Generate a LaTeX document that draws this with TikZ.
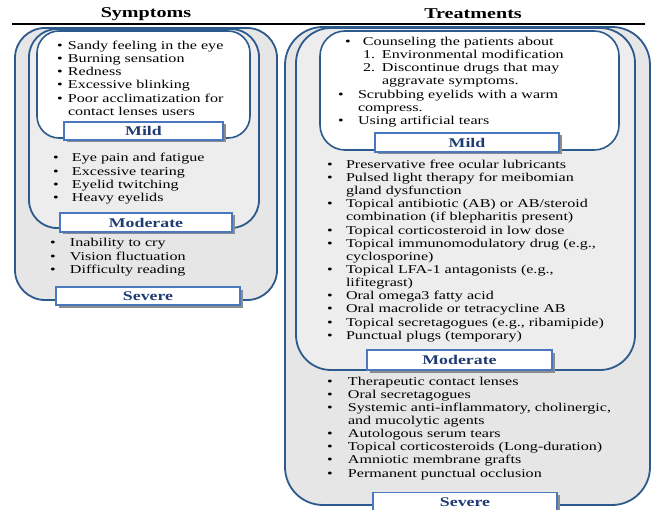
\documentclass[tikz,border=0pt]{standalone}
\usepackage{fontspec}
\setmainfont{Liberation Serif}
\newfontfamily\bodyfont[FakeStretch=1.34]{Liberation Serif}
\usetikzlibrary{shadows}
\definecolor{boxblue}{HTML}{2C5A8C}
\definecolor{lblblue}{HTML}{4A78BE}
\definecolor{lbltext}{HTML}{1F3B73}
\definecolor{fillA}{HTML}{E6E6E6}
\definecolor{fillB}{HTML}{EDEDED}
\newcommand\bl[1]{\makebox[#1][l]{\textbullet}}
\tikzset{
  levelbox/.style={draw=boxblue, line width=1.8pt, rounded corners=#1,
    inner sep=0pt, outer sep=0pt, anchor=north west},
  lvllabel/.style={draw=lblblue, line width=1.4pt, fill=white, inner sep=0pt,
    outer sep=0pt, text=lbltext, font=\bodyfont\bfseries\fontsize{13.3}{14}\selectfont,
    drop shadow={shadow xshift=2.5pt, shadow yshift=-2.5pt, fill=black!45, opacity=1}},
  listtxt/.style={anchor=base west, inner sep=0pt, outer sep=0pt, text=black,
    font=\bodyfont\fontsize{12}{13.15}\selectfont},
  heading/.style={inner sep=0pt, font=\bodyfont\bfseries\fontsize{15}{16}\selectfont}
}
\begin{document}
\begin{tikzpicture}[x=1pt,y=-1pt]
\useasboundingbox (0,0) rectangle (652,510);
% headings
\node[heading] (hsym) at (146,14) {Symptoms};
\node[heading] (htre) at (473,14) {Treatments};
\coordinate (hl) at (12,24);
\coordinate (hr) at (645,24);
\draw[line width=1.6pt] (hl) -- (hr);

% ---------- Symptoms ----------
\node[levelbox=30, fill=fillA, minimum width=262pt, minimum height=272pt] (lsev) at (15,28) {};
\node[levelbox=28, fill=fillB, minimum width=230pt, minimum height=199pt] (lmod) at (29,29) {};
\node[levelbox=22, fill=white, line width=1.6pt, minimum width=213pt, minimum height=107pt] (lmild) at (37,31) {};

\node[listtxt] (lmildtxt) at (57.2,49.5) {\begin{tabular}[t]{@{}l@{}}
\bl{10.8pt}Sandy feeling in the eye\\
\bl{10.8pt}Burning sensation\\
\bl{10.8pt}Redness\\
\bl{10.8pt}Excessive blinking\\
\bl{10.8pt}Poor acclimatization\ for\\
\hspace*{10.8pt}contact lenses users
\end{tabular}};
\node[listtxt] (lmodtxt) at (53.2,162) {\begin{tabular}[t]{@{}l@{}}
\bl{18.8pt}Eye pain and fatigue\\
\bl{18.8pt}Excessive tearing\\
\bl{18.8pt}Eyelid twitching\\
\bl{18.8pt}Heavy\ eyelids
\end{tabular}};
\node[listtxt] (lsevtxt) at (50.2,247) {\begin{tabular}[t]{@{}l@{}}
\bl{19.8pt}Inability to cry\\
\bl{19.8pt}Vision fluctuation\\
\bl{19.8pt}Difficulty reading
\end{tabular}};

\node[lvllabel, minimum width=159pt, minimum height=18pt] (lmildlbl) at (143.5,131) {Mild};
\node[lvllabel, minimum width=172pt, minimum height=19pt] (lmodlbl) at (146,222.5) {Moderate};
\node[lvllabel, minimum width=184pt, minimum height=18pt] (lsevlbl) at (148,296) {Severe};

% ---------- Treatments ----------
\node[levelbox=38, fill=fillA, minimum width=365pt, minimum height=478pt] (rsev) at (285,27) {};
\node[levelbox=35, fill=fillB, minimum width=339pt, minimum height=342pt] (rmod) at (296,28) {};
\node[levelbox=25, fill=white, line width=1.6pt, minimum width=299pt, minimum height=119pt] (rmild) at (320,31) {};

\node[listtxt] (rmildtxt) at (338.2,45.5) {\begin{tabular}[t]{@{}l@{}}
\hspace*{7pt}\bl{19.8pt}\hspace*{-2pt}Counseling the patients about\\
\hspace*{24.8pt}\makebox[19pt][l]{1.}Environmental modification\\
\hspace*{24.8pt}\makebox[19pt][l]{2.}Discontinue drugs that may\\
\hspace*{43.8pt}aggravate symptoms.\\
\bl{19.8pt}Scrubbing eyelids with a warm\\
\hspace*{19.8pt}compress.\\
\bl{19.8pt}Using artificial tears
\end{tabular}};
\node[listtxt] (rmodtxt) at (327.2,168.3) {\begin{tabular}[t]{@{}l@{}}
\bl{18.8pt}Preservative free ocular lubricants\\
\bl{18.8pt}Pulsed light therapy for meibomian\\
\hspace*{18.8pt}gland dysfunction\\
\bl{18.8pt}Topical antibiotic (AB) or AB/steroid\\
\hspace*{18.8pt}combination (if blepharitis present)\\
\bl{18.8pt}Topical corticosteroid in low dose\\
\bl{18.8pt}Topical immunomodulatory drug (e.g.,\\
\hspace*{18.8pt}cyclosporine)\\
\bl{18.8pt}Topical LFA-1\ antagonists (e.g.,\\
\hspace*{18.8pt}lifitegrast)\\
\bl{18.8pt}Oral omega3\ fatty acid\\
\bl{18.8pt}Oral macrolide or tetracycline AB\\
\bl{18.8pt}Topical secretagogues (e.g., ribamipide)\\
\bl{18.8pt}Punctual plugs (temporary)
\end{tabular}};
\node[listtxt] (rsevtxt) at (327.2,385) {\begin{tabular}[t]{@{}l@{}}
\bl{20.8pt}Therapeutic contact lenses\\
\bl{20.8pt}Oral secretagogues\\
\bl{20.8pt}Systemic anti-inflammatory, cholinergic,\\
\hspace*{20.8pt}and mucolytic agents\\
\bl{20.8pt}Autologous serum tears\\
\bl{20.8pt}Topical corticosteroids (Long-duration)\\
\bl{20.8pt}Amniotic membrane grafts\\
\bl{20.8pt}Permanent punctual occlusion
\end{tabular}};

\node[lvllabel, minimum width=184pt, minimum height=19pt] (rmildlbl) at (467,142.5) {Mild};
\node[lvllabel, minimum width=185pt, minimum height=20pt] (rmodlbl) at (459.5,360) {Moderate};
\node[lvllabel, minimum width=184pt, minimum height=19pt] (rsevlbl) at (465,502) {Severe};
\end{tikzpicture}
\end{document}
